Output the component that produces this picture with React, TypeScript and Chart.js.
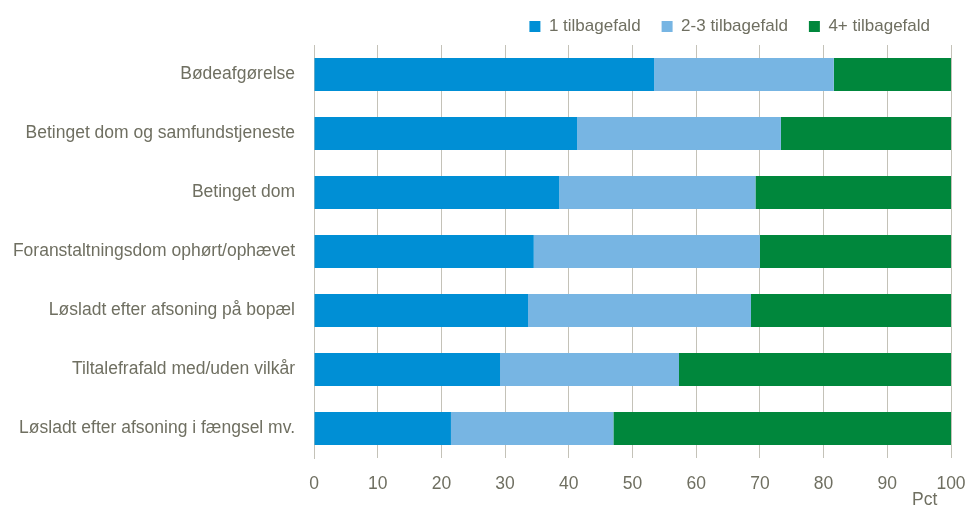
import React, { useEffect, useRef } from "react";
import { Chart, registerables } from "chart.js";

Chart.register(...registerables);

const categories = [
  "Bødeafgørelse",
  "Betinget dom og samfundstjeneste",
  "Betinget dom",
  "Foranstaltningsdom ophørt/ophævet",
  "Løsladt efter afsoning på bopæl",
  "Tiltalefrafald med/uden vilkår",
  "Løsladt efter afsoning i fængsel mv.",
];

const seriesNames = ["1 tilbagefald", "2-3 tilbagefald", "4+ tilbagefald"];
const oneRelapse = [53.4, 41.3, 38.5, 34.5, 33.6, 29.2, 21.5];
const twoThreeRelapse = [28.2, 32.0, 30.8, 35.5, 35.0, 28.1, 25.5];
const fourPlusRelapse = [18.4, 26.7, 30.7, 30.0, 31.4, 42.7, 53.0];
const xTicks = [0, 10, 20, 30, 40, 50, 60, 70, 80, 90, 100];
const xUnit = "Pct";

const COLORS = ["#008fd5", "#77b5e3", "#00873c"];
const TEXT = "#6f6f61";
const GRID = "#c4c2b8";
const FONT = "'Liberation Sans', Arial, sans-serif";

export default function App() {
  const ref = useRef<HTMLCanvasElement | null>(null);

  useEffect(() => {
    if (!ref.current) return;
    const values = [oneRelapse, twoThreeRelapse, fourPlusRelapse];
    const chart = new Chart(ref.current, {
      type: "bar",
      data: {
        labels: categories,
        datasets: seriesNames.map((name, i) => ({
          label: name,
          data: values[i],
          backgroundColor: COLORS[i],
          borderWidth: 0,
          categoryPercentage: 1,
          barPercentage: 0.56,
        })),
      },
      options: {
        indexAxis: "y",
        responsive: false,
        animation: false,
        layout: { padding: { top: -4.5, right: 17, bottom: 0, left: 0 } },
        plugins: {
          legend: {
            position: "top",
            align: "end",
            labels: {
              boxWidth: 11,
              boxHeight: 11,
              padding: 21,
              color: TEXT,
              font: { family: FONT, size: 17 },
            },
          },
          tooltip: { enabled: false },
        },
        scales: {
          x: {
            stacked: true,
            min: 0,
            max: 100,
            afterBuildTicks: (scale: any) => {
              scale.ticks = xTicks.map((v) => ({ value: v }));
            },
            afterFit: (scale: any) => {
              scale.height = 54;
              scale.paddingLeft = 0;
              scale.paddingRight = 0;
            },
            grid: {
              display: true,
              color: GRID,
              lineWidth: 1,
              drawTicks: false,
            },
            border: { display: false },
            ticks: {
              padding: 16,
              color: TEXT,
              font: { family: FONT, size: 17.5 },
              maxRotation: 0,
            },
            title: {
              display: true,
              text: xUnit + "\u2002 ",
              align: "end",
              color: TEXT,
              font: { family: FONT, size: 17.5 },
              padding: { top: 0, bottom: 1 },
            },
          },
          y: {
            stacked: true,
            afterFit: (scale: any) => {
              scale.width = 314;
              scale.paddingTop = 45;
              scale.paddingBottom = 0;
            },
            grid: { display: false, drawTicks: false },
            border: { display: true, color: GRID, width: 1 },
            ticks: {
              padding: 19,
              color: TEXT,
              font: { family: FONT, size: 17.5 },
            },
          },
        },
      },
    });
    return () => chart.destroy();
  }, []);

  return (
    <div
      style={{
        position: "fixed",
        left: 0,
        top: 0,
        width: 968,
        height: 506,
        overflow: "hidden",
        background: "#fff",
      }}
    >
      <canvas ref={ref} width={968} height={512} style={{ display: "block" }} />
    </div>
  );
}
